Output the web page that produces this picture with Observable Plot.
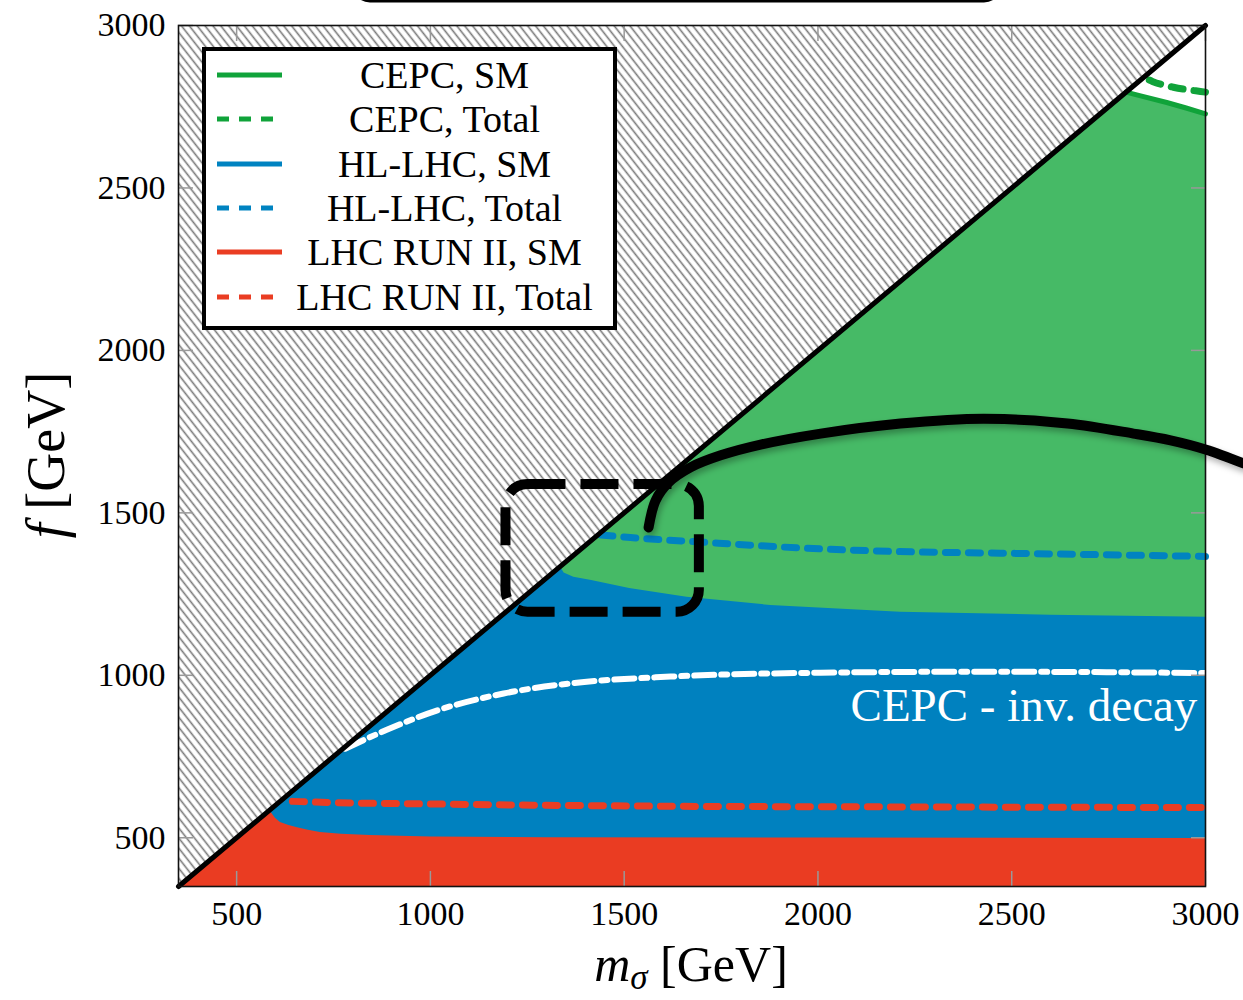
<!DOCTYPE html>
<html>
<head>
<meta charset="utf-8">
<script src="https://cdn.jsdelivr.net/npm/d3@7"></script>
<script src="https://cdn.jsdelivr.net/npm/@observablehq/plot@0.6"></script>
<style>
html, body { margin: 0; padding: 0; background: #fff; overflow: hidden; }
#wrap { position: relative; width: 1243px; height: 1000px; }
#legend { position: absolute; left: 202px; top: 47px; width: 415px; height: 283px; box-sizing: border-box;
  border: 4px solid #000; background: #fff; padding-top: 2px;
  font-family: "Liberation Serif", "DejaVu Serif", serif; font-size: 38px; color: #000; }
.row { display: flex; align-items: center; height: 44.3px; }
.row svg { margin-left: 11px; flex: none; }
.row span { flex: 1; text-align: center; line-height: 1; margin-right: 6px; white-space: nowrap; }
</style>
</head>
<body>
<div id="wrap"></div>
<script>
// ---- axes ----
const xDomain = [350, 3000];
const yDomain = [350, 3000];
const xTicks = [500, 1000, 1500, 2000, 2500, 3000];
const yTicks = [500, 1000, 1500, 2000, 2500, 3000];
const diagonal = [350, 3000]; // f = m_sigma

// ---- exclusion boundaries (SM), starting where they leave the diagonal ----
const greenSM_m = [2795, 2830, 2900, 2950, 3000];
const greenSM_f = [2795, 2784, 2763, 2746, 2728];
const blueSM_m = [1335, 1345, 1370, 1416, 1514, 1662, 1878, 2213, 2600, 3000];
const blueSM_f = [1335, 1315, 1302, 1292, 1267, 1240, 1215, 1194, 1185, 1179];
const redSM_m = [585, 600, 613, 635, 657, 685, 716, 770, 845, 1000, 1300, 2000, 3000];
const redSM_f = [585, 560, 547, 538, 531, 523, 516, 511, 507, 502, 500, 499, 498];

// ---- Total (dotted) ----
const greenTot_m = [2855, 2863, 2917, 2987, 3000];
const greenTot_f = [2832, 2828, 2810, 2797, 2795];
const blueTot_m = [1440, 1516, 1700, 2007, 2240, 2470, 3000];
const blueTot_f = [1432, 1424, 1410, 1389, 1380, 1376, 1366];
const redTot_m = [644, 800, 1000, 1300, 1620, 2200, 3000];
const redTot_f = [612, 607, 604, 600, 597, 595, 593];

// ---- CEPC invisible decay (white dash-dot) ----
const cepcInv_m = [780, 889, 1018, 1189, 1361, 1620, 2007, 2400, 2700, 3000];
const cepcInv_f = [774, 833, 892, 944, 975, 996, 1008, 1011, 1010, 1007];
const invLabel = ["CEPC - inv. decay"];
const invLabel_m = [2979];
const invLabel_f = [907];

// ---- annotations ----
const zoomBox_m = [1195, 1694];
const zoomBox_f = [1194, 1587];
const lens_m = [1563, 1581, 1614, 1671, 1749, 1852, 2007, 2213, 2427, 2644, 2814, 2910, 3000, 3098];
const lens_f = [1455, 1538, 1593, 1640, 1677, 1710, 1744, 1775, 1790, 1775, 1744, 1723, 1695, 1652];
const topBox_m = [804, 2471];
const topBox_f = [3074, 3300];

// ---- legend ----
const legendLabels = ["CEPC, SM", "CEPC, Total", "HL-LHC, SM", "HL-LHC, Total", "LHC RUN II, SM", "LHC RUN II, Total"];
const legendColors = ["#10A33A", "#10A33A", "#0083C1", "#0083C1", "#EA3D23", "#EA3D23"];
const legendDashed = [false, true, false, true, false, true];

const colors = {greenFill: "#46BA66", greenLine: "#10A33A", blue: "#0081BF", red: "#EA3C22"};

const rows = (m, f) => m.map((v, i) => ({m: v, f: f[i]}));
const withCorner = (m, f) => [{m: xDomain[0], f: yDomain[0]}, ...rows(m, f)];

const svg = Plot.plot({
  width: 1243, height: 1000,
  marginLeft: 178, marginRight: 38, marginTop: 25, marginBottom: 114,
  x: {domain: xDomain, axis: null},
  y: {domain: yDomain, axis: null},
  style: {fontFamily: "'Liberation Serif', 'DejaVu Serif', serif", fontSize: "34px", background: "white", color: "black", overflow: "hidden"},
  marks: [
    // hatched forbidden region above the diagonal
    Plot.areaY(diagonal, {x: d => d, y1: d => d, y2: yDomain[1], fill: "url(#hatch)"}),
    // exclusion fills
    Plot.areaY(withCorner(greenSM_m, greenSM_f), {x: "m", y1: yDomain[0], y2: "f", fill: colors.greenFill}),
    Plot.areaY(withCorner(blueSM_m, blueSM_f), {x: "m", y1: yDomain[0], y2: "f", fill: colors.blue}),
    Plot.areaY(withCorner(redSM_m, redSM_f), {x: "m", y1: yDomain[0], y2: "f", fill: colors.red}),
    Plot.line(rows(greenSM_m, greenSM_f), {x: "m", y: "f", stroke: colors.greenLine, strokeWidth: 5}),
    // totals
    Plot.line(rows(redTot_m, redTot_f), {x: "m", y: "f", stroke: "#EA3D23", strokeWidth: 7, strokeDasharray: "12,11", curve: "monotone-x"}),
    Plot.line(rows(blueTot_m, blueTot_f), {x: "m", y: "f", stroke: "#0083C1", strokeWidth: 7, strokeDasharray: "12,11", curve: "monotone-x"}),
    Plot.line(rows(greenTot_m, greenTot_f), {x: "m", y: "f", stroke: "#10A33A", strokeWidth: 7, strokeDasharray: "12,11", curve: "monotone-x"}),
    Plot.line(rows(cepcInv_m, cepcInv_f), {x: "m", y: "f", stroke: "white", strokeWidth: 6, strokeDasharray: "20,7,6,7", curve: "monotone-x"}),
    Plot.text(invLabel, {x: invLabel_m, y: invLabel_f, text: d => d, textAnchor: "end", lineAnchor: "middle", fill: "white", fontSize: 47}),
    // inner ticks on all four sides
    Plot.axisX(xTicks, {anchor: "bottom", tickSize: 15, dy: -15, tickFormat: () => "", stroke: "#999", strokeWidth: 1.5, label: null}),
    Plot.axisX(xTicks, {anchor: "top", tickSize: 15, dy: 15, tickFormat: () => "", stroke: "#999", strokeWidth: 1.5, label: null}),
    Plot.axisY(yTicks, {anchor: "left", tickSize: 15, dx: 15, tickFormat: () => "", stroke: "#999", strokeWidth: 1.5, label: null}),
    Plot.axisY(yTicks, {anchor: "right", tickSize: 15, dx: -15, tickFormat: () => "", stroke: "#999", strokeWidth: 1.5, label: null}),
    // tick labels
    Plot.axisX(xTicks, {anchor: "bottom", tickSize: 0, tickPadding: 14, tickFormat: d => String(d), label: null}),
    Plot.axisY(yTicks, {anchor: "left", tickSize: 0, tickPadding: 13, tickFormat: d => String(d), label: null}),
    // diagonal f = m
    Plot.line(diagonal, {x: d => d, y: d => d, stroke: "black", strokeWidth: 5}),
    Plot.frame({stroke: "#111", strokeWidth: 1.6}),
    // annotations
    Plot.rect([0], {x1: zoomBox_m[0], x2: zoomBox_m[1], y1: zoomBox_f[0], y2: zoomBox_f[1], fill: "none", stroke: "black", strokeWidth: 10, strokeDasharray: "38,15", rx: 22}),
    Plot.line(rows(lens_m, lens_f), {x: "m", y: "f", stroke: "black", strokeWidth: 10, curve: "catmull-rom"}),
    Plot.rect([0], {x1: topBox_m[0], x2: topBox_m[1], y1: topBox_f[0], y2: topBox_f[1], fill: "none", stroke: "black", strokeWidth: 3, rx: 16})
  ]
});

// hatch pattern and soft shadow
const sel = d3.select(svg);
const defs = sel.insert("defs", ":first-child");
const pat = defs.append("pattern").attr("id", "hatch").attr("patternUnits", "userSpaceOnUse")
  .attr("width", 6.2).attr("height", 10).attr("patternTransform", "rotate(-38)");
pat.append("rect").attr("width", 6.2).attr("height", 10).attr("fill", "white");
pat.append("line").attr("x1", 3.1).attr("y1", -1).attr("x2", 3.1).attr("y2", 11)
  .attr("stroke", "#7a7a7a").attr("stroke-width", 1.6);
const flt = defs.append("filter").attr("id", "shadow").attr("x", "-10%").attr("y", "-10%").attr("width", "130%").attr("height", "140%");
flt.append("feDropShadow").attr("dx", 2).attr("dy", 4).attr("stdDeviation", 3).attr("flood-color", "black").attr("flood-opacity", 0.3);
sel.selectAll('g[aria-label="line"][stroke-width="10"]').attr("filter", "url(#shadow)");

// axis titles
const xt = sel.append("text").attr("x", 691).attr("y", 981).attr("text-anchor", "middle")
  .attr("font-size", 50).attr("fill", "black");
xt.append("tspan").attr("font-style", "italic").text("m");
xt.append("tspan").attr("font-style", "italic").attr("font-size", 35).attr("dy", 8).text("σ");
xt.append("tspan").attr("dy", -8).text(" [GeV]");

const yt = sel.append("text").attr("transform", "translate(64,455) rotate(-90)").attr("text-anchor", "middle")
  .attr("font-size", 54).attr("fill", "black");
yt.append("tspan").attr("font-style", "italic").text("f");
yt.append("tspan").text(" [GeV]");

const wrap = document.getElementById("wrap");
wrap.appendChild(svg);

// legend
const leg = document.createElement("div");
leg.id = "legend";
legendLabels.forEach((lab, i) => {
  const row = document.createElement("div");
  row.className = "row";
  const dash = legendDashed[i] ? 'stroke-dasharray="12,10"' : "";
  row.innerHTML = `<svg width="65" height="10"><line x1="0" y1="5" x2="65" y2="5" stroke="${legendColors[i]}" stroke-width="5" ${dash}/></svg><span>${lab}</span>`;
  leg.appendChild(row);
});
wrap.appendChild(leg);
</script>
</body>
</html>
